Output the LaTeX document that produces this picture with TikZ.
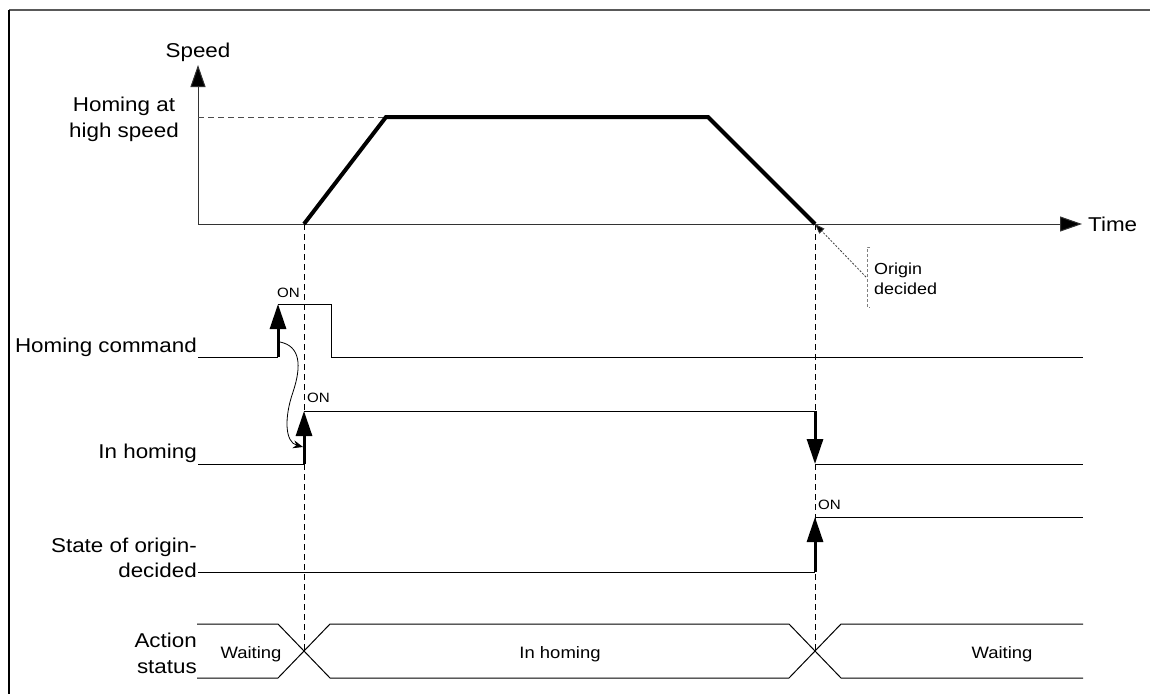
\documentclass[tikz,border=0pt]{standalone}
\usepackage{fontspec}
\setmainfont[FakeStretch=1.12]{Liberation Sans}
\usetikzlibrary{arrows.meta}
\begin{document}
\begin{tikzpicture}[x=1pt,y=-1pt,
  lbl/.style={font=\fontsize{20}{24}\selectfont, inner sep=0pt},
  onl/.style={font=\fontsize{13.5}{15}\selectfont, inner sep=0pt, anchor=base west},
  mid/.style={font=\fontsize{16.5}{20}\selectfont, inner sep=0pt, anchor=base},
  sig/.style={line width=1pt, line join=miter},
  edgeup/.style={line width=3pt, -{Triangle[length=25pt,width=16pt]}},
  axis/.style={line width=1pt, draw=black!80, -{Triangle[length=22pt,width=15pt,fill=black]}},
  guide/.style={dash pattern=on 6pt off 4pt, line width=1pt},
  prof/.style={line width=4pt, line join=miter},
  thinarr/.style={line width=0.8pt, -{Stealth[length=10pt,width=8pt]}}]
\useasboundingbox (0,0) rectangle (1150,694);
% frame
\draw[line width=1.2pt, black!65] (1150,10) -- (9,10);
\draw[line width=1.3pt] (9,10) -- (9,694);

% axes
\coordinate (O) at (198,224);
\coordinate (ytip) at (198,65);
\coordinate (xtip) at (1082,224);
\draw[axis] (O) -- (ytip);
\draw[axis] (O) -- (xtip);
\node[lbl, anchor=base] (speed) at (198,57) {Speed};
\node[lbl, anchor=west] (time) at (1088,224) {Time};
\node[lbl, anchor=base] (hs1) at (124,111) {Homing at};
\node[lbl, anchor=base] (hs2) at (124,137) {high speed};

% speed profile
\coordinate (p0) at (304,224);
\coordinate (p1) at (386,117);
\coordinate (p2) at (708,117);
\coordinate (p3) at (815,224);
\coordinate (hsl) at (198,117);
\draw[dash pattern=on 6pt off 4pt, line width=0.9pt, black!70] (hsl) -- (p1);
\draw[prof] (p0) -- (p1) -- (p2) -- (p3);

% guides
\coordinate (g1) at (304,651);
\coordinate (g2) at (815,651);
\draw[guide] (p0) -- (g1);
\draw[guide] (p3) -- (g2);

% origin decided annotation
\coordinate (od) at (866,277);
\draw[black!75, line width=0.8pt, dash pattern=on 2pt off 1.5pt, -{Triangle[length=10pt,width=7pt,fill=black]}] (od) -- (p3);
\draw[black!50, line width=0.9pt, dash pattern=on 3pt off 2pt] (870,247) -- (867,247) -- (867,307) -- (870,307);
\node[font=\fontsize{16}{20}\selectfont, inner sep=0pt, anchor=base west] (orig1) at (874,274) {Origin};
\node[font=\fontsize{16}{20}\selectfont, inner sep=0pt, anchor=base west] (orig2) at (874,294) {decided};

% Homing command
\node[lbl, anchor=base east] (hc) at (197,352) {Homing command};
\coordinate (hc0) at (198,357);
\coordinate (hcL) at (278,357);
\coordinate (hcH) at (278,304);
\draw[sig] (hc0) -- (hcL);
\draw[sig] (hcH) -- (331,304) -- (331,357) -- (1083,357);
\draw[edgeup] (hcL) -- (hcH);
\node[onl] (on1) at (277,297) {ON};

% In homing
\node[lbl, anchor=base east] (ih) at (197,458) {In homing};
\coordinate (ih0) at (198,464);
\coordinate (ihL) at (304,464);
\coordinate (ihH) at (304,411);
\coordinate (ihH2) at (815,411);
\coordinate (ihL2) at (815,464);
\draw[sig] (ih0) -- (ihL);
\draw[sig] (ihH) -- (ihH2);
\draw[sig] (ihL2) -- (1083,464);
\draw[edgeup] (ihL) -- (ihH);
\draw[edgeup] (ihH2) -- (ihL2);
\node[onl] (on2) at (307,402) {ON};

% curved causal arrow
\coordinate (cs) at (280,342);
\coordinate (ce) at (303,447);
\draw[thinarr] (cs) .. controls (300,346) and (302,365) .. (293,392) .. controls (284,418) and (285,442) .. (ce);

% State of origin-decided
\node[lbl, anchor=base east] (so1) at (197,552) {State of origin-};
\node[lbl, anchor=base east] (so2) at (197,577) {decided};
\coordinate (so0) at (198,572);
\coordinate (soL) at (815,572);
\coordinate (soH) at (815,517);
\draw[sig] (so0) -- (soL);
\draw[sig] (soH) -- (1083,517);
\draw[edgeup] (soL) -- (soH);
\node[onl] (on3) at (818,509) {ON};

% Action status
\node[lbl, anchor=base east] (as1) at (197,647) {Action};
\node[lbl, anchor=base east] (as2) at (197,673) {status};
\draw[sig] (197,624) -- (278,624) -- (330,678) -- (789,678) -- (841,624) -- (1083,624);
\draw[sig] (197,678) -- (278,678) -- (330,624) -- (789,624) -- (841,678) -- (1083,678);
\node[mid] (w1) at (251,658) {Waiting};
\node[mid] (ihs) at (560,658) {In homing};
\node[mid] (w2) at (1002,658) {Waiting};
\end{tikzpicture}
\end{document}
